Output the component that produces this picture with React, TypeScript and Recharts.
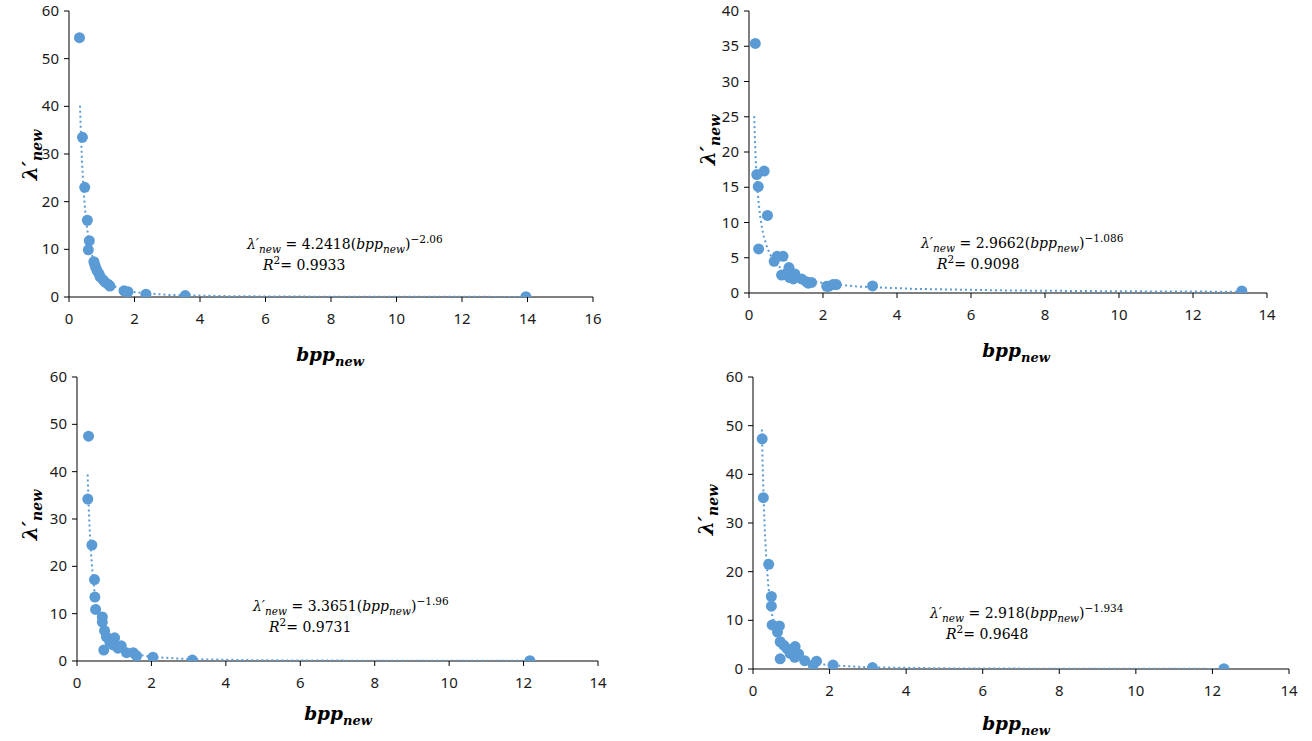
import React from 'react';
import { ScatterChart, Scatter, XAxis, YAxis } from 'recharts';

const BLUE = '#5B9BD5';

// top-left panel
const p1X = [0.32, 0.41, 0.48, 0.56, 0.62, 0.59, 0.76, 0.79, 0.82, 0.86, 0.92, 0.95, 1.04, 1.1, 1.19, 1.25, 1.68, 1.8, 2.35, 3.55, 13.95];
const p1Y = [54.4, 33.5, 23.0, 16.1, 11.8, 9.9, 7.4, 6.7, 6.1, 5.5, 4.8, 4.2, 3.6, 3.1, 2.7, 2.3, 1.3, 1.1, 0.6, 0.3, 0.05];
const p1TrendX = [0.336, 0.36, 0.4, 0.45, 0.5, 0.55, 0.6, 0.7, 0.8, 0.9, 1, 1.2, 1.5, 2, 3, 5, 8, 13.95];
const p1Coef = [4.2418, -2.06];

// top-right panel
const p2X = [0.17, 0.21, 0.41, 0.25, 0.5, 0.26, 0.68, 0.76, 0.92, 0.88, 1.08, 1.05, 1.1, 1.24, 1.2, 1.42, 1.55, 1.6, 1.69, 2.1, 2.15, 2.27, 2.36, 3.34, 13.32];
const p2Y = [35.4, 16.8, 17.3, 15.1, 11.0, 6.25, 4.5, 5.2, 5.2, 2.55, 3.6, 2.5, 2.2, 2.7, 2.0, 2.0, 1.6, 1.4, 1.5, 0.95, 0.95, 1.2, 1.2, 1.0, 0.3];
const p2TrendX = [0.14, 0.16, 0.18, 0.2, 0.23, 0.26, 0.3, 0.35, 0.4, 0.5, 0.6, 0.8, 1, 1.3, 1.7, 2.2, 3, 4.5, 7, 10, 13.32];
const p2Coef = [2.9662, -1.086];

// bottom-left panel
const p3X = [0.31, 0.29, 0.4, 0.47, 0.48, 0.5, 0.68, 0.68, 0.74, 0.79, 0.72, 1.01, 0.88, 0.97, 1.1, 1.19, 1.33, 1.51, 1.6, 2.04, 3.1, 12.17];
const p3Y = [47.5, 34.2, 24.5, 17.2, 13.5, 10.9, 9.3, 8.2, 6.4, 5.1, 2.3, 4.9, 4.1, 3.4, 2.7, 3.2, 1.75, 1.75, 1.1, 0.8, 0.2, 0.05];
const p3TrendX = [0.285, 0.31, 0.34, 0.38, 0.42, 0.47, 0.52, 0.6, 0.7, 0.8, 0.9, 1, 1.2, 1.5, 2, 3, 5, 8, 12.17];
const p3Coef = [3.3651, -1.96];

// bottom-right panel
const p4X = [0.24, 0.27, 0.41, 0.48, 0.48, 0.5, 0.69, 0.64, 0.71, 0.8, 0.71, 0.89, 1.1, 0.97, 1.09, 1.19, 1.35, 1.57, 1.66, 2.09, 3.12, 12.3];
const p4Y = [47.3, 35.2, 21.5, 14.9, 12.9, 9.05, 8.85, 7.6, 5.6, 4.9, 2.1, 4.2, 4.6, 3.2, 2.4, 3.1, 1.7, 0.8, 1.6, 0.8, 0.3, 0.05];
const p4TrendX = [0.232, 0.25, 0.28, 0.31, 0.35, 0.4, 0.45, 0.5, 0.6, 0.7, 0.8, 0.9, 1, 1.2, 1.5, 2, 3, 5, 8, 12.3];
const p4Coef = [2.918, -1.934];

const xTicks16 = [0, 2, 4, 6, 8, 10, 12, 14, 16];
const xTicks14 = [0, 2, 4, 6, 8, 10, 12, 14];
const yTicks60 = [0, 10, 20, 30, 40, 50, 60];
const yTicks40 = [0, 5, 10, 15, 20, 25, 30, 35, 40];

const fitLabels = ['4.2418', '2.9662', '3.3651', '2.918'];
const fitExps = ['−2.06', '−1.086', '−1.96', '−1.934'];
const r2Labels = ['0.9933', '0.9098', '0.9731', '0.9648'];

const pts = (xs: number[], ys: number[]) => xs.map((x, i) => ({ x, y: ys[i] }));
const trend = (xs: number[], c: number[]) => xs.map((x) => ({ x, y: c[0] * Math.pow(x, c[1]) }));

const serif = '"DejaVu Serif", serif';
const small = { fontSize: 10.5, lineHeight: 0 };

const XTick = (props: any) => (
  <text x={props.x} y={props.y + 20} textAnchor="middle" fontSize={15} fontFamily="Noto Sans" fill="#1a1a1a">
    {props.payload.value}
  </text>
);

const YTick = (props: any) => (
  <text x={props.x - 3} y={props.y + 5} textAnchor="end" fontSize={15} fontFamily="Noto Sans" fill="#1a1a1a">
    {props.payload.value}
  </text>
);

const Dot = (props: any) => <circle cx={props.cx} cy={props.cy} r={5.5} fill={BLUE} />;
const None = () => <g />;

type PanelProps = {
  box: [number, number, number, number];
  data: { x: number; y: number }[];
  fit: { x: number; y: number }[];
  xMax: number;
  yMax: number;
  xTicks: number[];
  yTicks: number[];
};

const Panel = ({ box, data, fit, xMax, yMax, xTicks, yTicks }: PanelProps) => {
  const [x0, y0, x1, y1] = box;
  return (
    <div style={{ position: 'absolute', left: x0 - 50, top: y0 - 10 }}>
      <ScatterChart
        width={x1 - x0 + 80}
        height={y1 - y0 + 50}
        margin={{ top: 10, left: 5, right: 30, bottom: 5 }}
      >
        <XAxis
          type="number"
          dataKey="x"
          domain={[0, xMax]}
          ticks={xTicks}
          allowDataOverflow
          height={35}
          tick={<XTick />}
          tickSize={5}
          axisLine={{ stroke: '#000' }}
          tickLine={{ stroke: '#000' }}
        />
        <YAxis
          type="number"
          dataKey="y"
          domain={[0, yMax]}
          ticks={yTicks}
          allowDataOverflow
          width={45}
          tick={<YTick />}
          tickSize={5}
          axisLine={{ stroke: '#000' }}
          tickLine={{ stroke: '#000' }}
        />
        <Scatter
          data={fit}
          shape={None}
          line={{ stroke: BLUE, strokeWidth: 2, strokeDasharray: '2 3' }}
          isAnimationActive={false}
        />
        <Scatter data={data} shape={Dot} isAnimationActive={false} />
      </ScatterChart>
    </div>
  );
};

const XTitle = ({ cx, cy }: { cx: number; cy: number }) => (
  <div
    style={{
      position: 'absolute', left: cx - 60, top: cy - 12, width: 120, textAlign: 'center',
      fontFamily: serif, fontWeight: 'bold', fontStyle: 'italic', fontSize: 18.5, color: '#000', lineHeight: '24px',
    }}
  >
    bpp<sub style={{ fontSize: 13, lineHeight: 0 }}>new</sub>
  </div>
);

const YTitle = ({ cx, cy }: { cx: number; cy: number }) => (
  <div
    style={{
      position: 'absolute', left: cx - 40, top: cy - 12, width: 80, height: 24, textAlign: 'center',
      transform: 'rotate(-90deg)', fontFamily: serif, fontWeight: 'bold', fontStyle: 'italic',
      fontSize: 20, color: '#000', lineHeight: '24px',
    }}
  >
    λ′<sub style={{ fontSize: 14, lineHeight: 0 }}>new</sub>
  </div>
);

const Equation = ({ x, y, i }: { x: number; y: number; i: number }) => (
  <div style={{ position: 'absolute', left: x, top: y, fontFamily: serif, fontSize: 14, color: '#000', lineHeight: '21px', whiteSpace: 'nowrap' }}>
    <div>
      <i>λ′</i><sub style={small}><i>new</i></sub> = {fitLabels[i]}(<i>bpp</i><sub style={small}><i>new</i></sub>)<sup style={small}>{fitExps[i]}</sup>
    </div>
    <div style={{ paddingLeft: 16 }}>
      <i>R</i><sup style={small}>2</sup>= {r2Labels[i]}
    </div>
  </div>
);

const App = () => (
  <div style={{ position: 'absolute', left: 0, top: 0, width: 1312, height: 741, background: '#fff', overflow: 'hidden' }}>
    <Panel box={[69, 11, 593, 297]} data={pts(p1X, p1Y)} fit={trend(p1TrendX, p1Coef)} xMax={16} yMax={60} xTicks={xTicks16} yTicks={yTicks60} />
    <Panel box={[749, 11, 1267, 293]} data={pts(p2X, p2Y)} fit={trend(p2TrendX, p2Coef)} xMax={14} yMax={40} xTicks={xTicks14} yTicks={yTicks40} />
    <Panel box={[77, 377, 598, 661]} data={pts(p3X, p3Y)} fit={trend(p3TrendX, p3Coef)} xMax={14} yMax={60} xTicks={xTicks14} yTicks={yTicks60} />
    <Panel box={[753, 377, 1289, 669]} data={pts(p4X, p4Y)} fit={trend(p4TrendX, p4Coef)} xMax={14} yMax={60} xTicks={xTicks14} yTicks={yTicks60} />

    <XTitle cx={330} cy={355} />
    <XTitle cx={1016} cy={351} />
    <XTitle cx={338} cy={714} />
    <XTitle cx={1016} cy={724} />

    <YTitle cx={30} cy={155} />
    <YTitle cx={708} cy={140} />
    <YTitle cx={30} cy={515} />
    <YTitle cx={706} cy={510} />

    <Equation x={247} y={234} i={0} />
    <Equation x={921} y={233} i={1} />
    <Equation x={253} y={596} i={2} />
    <Equation x={930} y={603} i={3} />
  </div>
);

export default App;
